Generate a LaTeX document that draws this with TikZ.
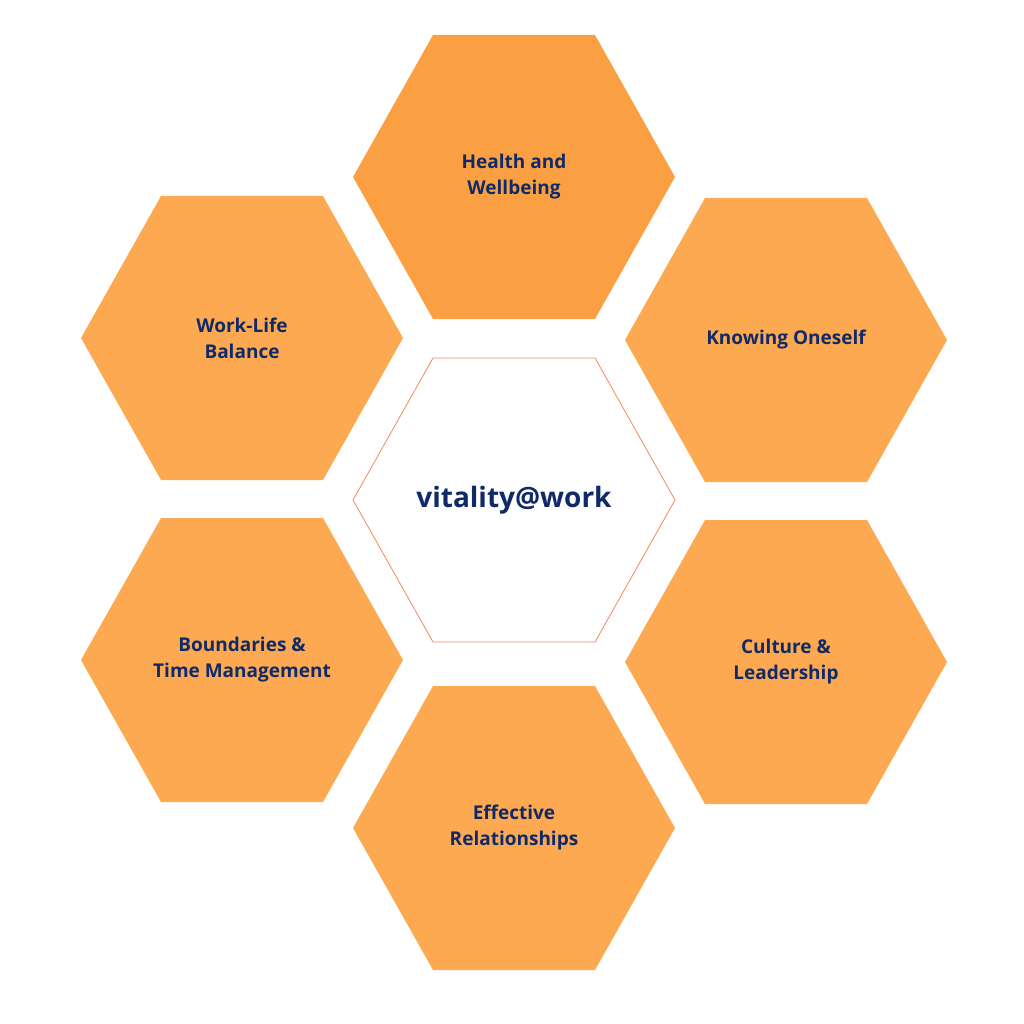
\documentclass[tikz,border=0pt]{standalone}
\usepackage{fontspec}
\setmainfont{Open Sans}
\definecolor{hexor}{HTML}{FCA951}
\definecolor{hexdk}{HTML}{FBA042}
\definecolor{navy}{HTML}{102A68}
\definecolor{rim}{HTML}{F08A5D}
\tikzset{
  lbl/.style={text=navy,font=\fontsize{19}{26}\selectfont\bfseries,align=center},
}
\newcommand{\hexpath}[1]{(#1)++(161,0)--++(-80,-142)--++(-162,0)--++(-80,142)--++(80,142)--++(162,0)--cycle}
\begin{document}
\begin{tikzpicture}[x=1pt,y=-1pt]
\useasboundingbox (0,0) rectangle (1024,1024);
\coordinate (ct) at (514,177);
\coordinate (ctr) at (786,340);
\coordinate (cbr) at (786,662);
\coordinate (cb) at (514,828);
\coordinate (cbl) at (242,660);
\coordinate (ctl) at (242,338);
\coordinate (cc) at (514,500);
\fill[hexdk] \hexpath{ct};
\fill[hexor] \hexpath{ctr};
\fill[hexor] \hexpath{cbr};
\fill[hexor] \hexpath{cb};
\fill[hexor] \hexpath{cbl};
\fill[hexor] \hexpath{ctl};
\draw[rim,line width=0.8pt,fill=white] \hexpath{cc};
\node[lbl] (t) at (ct) {Health and\\Wellbeing};
\node[lbl] (tr) at (ctr) {Knowing Oneself};
\node[lbl] (br) at (cbr) {Culture \&\\Leadership};
\node[lbl] (b) at (cb) {Effective\\Relationships};
\node[lbl] (bl) at (cbl) {Boundaries \&\\Time Management};
\node[lbl] (tl) at (ctl) {Work-Life\\Balance};
\node[lbl,font=\fontsize{28}{34}\selectfont\bfseries] (c) at (cc) {vitality@work};
\end{tikzpicture}
\end{document}
